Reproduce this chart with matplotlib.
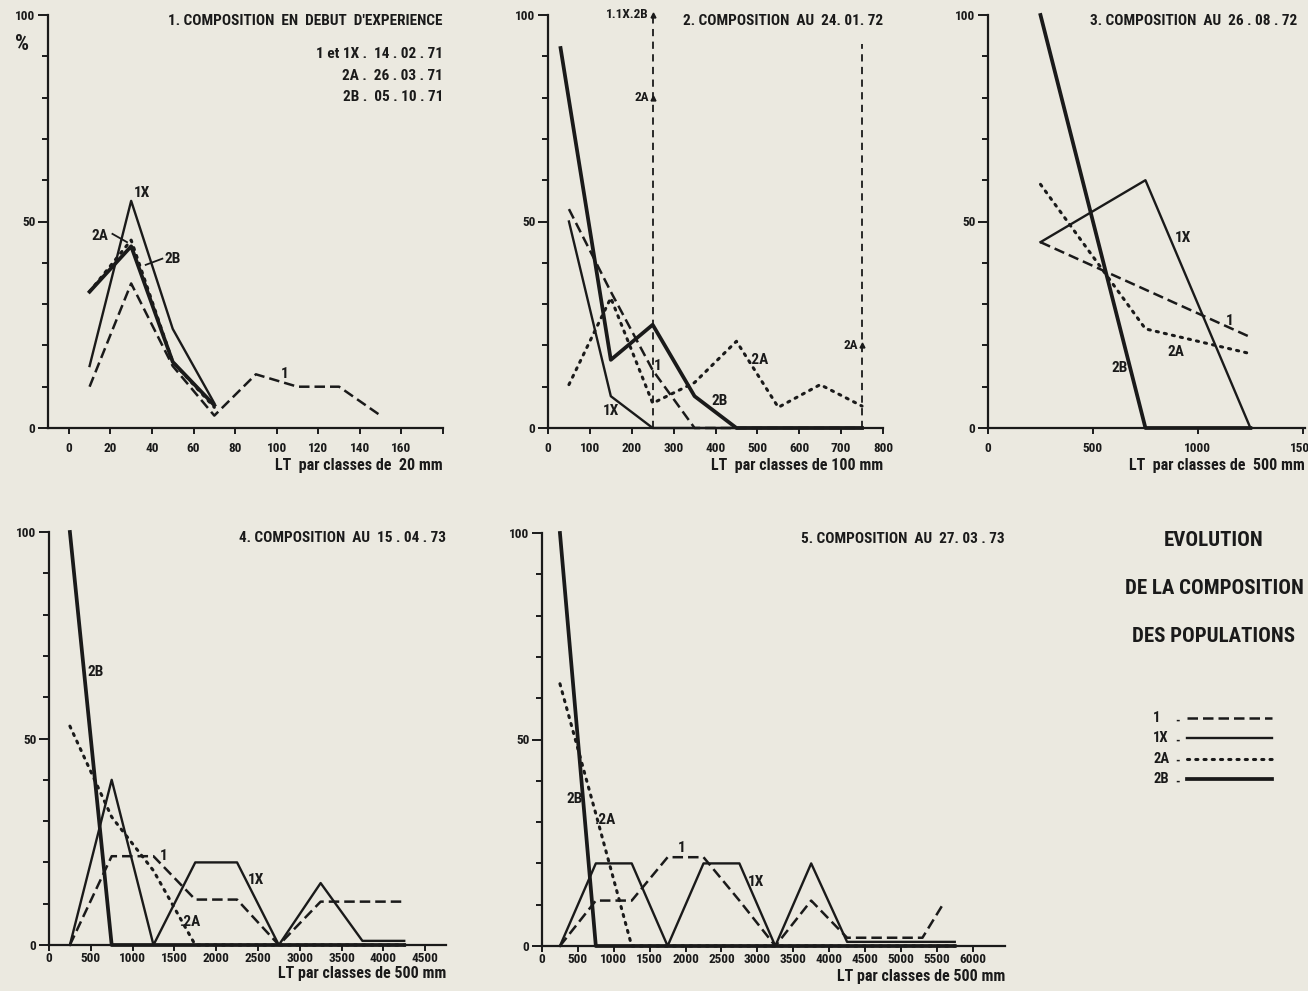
import matplotlib
matplotlib.use('Agg')
import matplotlib.pyplot as plt
from matplotlib import font_manager
from matplotlib.lines import Line2D
from matplotlib.ticker import MultipleLocator

# --- data (percent per length class) ---
p1_x = [10, 30, 50, 70, 90, 110, 130, 150]
p1_1 = [10, 35, 15, 3, 13, 10, 10, 3]
p1_1X = [15, 55, 24, 6]
p1_2A = [33, 45.5, 16, 5]
p1_2B = [33, 44, 16, 5.5]

p2_x = [50, 150, 250, 350, 450, 550, 650, 750]
p2_x2B = [30, 150, 250, 350, 450, 550, 650, 750]
p2_1 = [53, 33, 14, 0, 0, 0, 0, 0]
p2_1X = [50, 7.7, 0, 0, 0, 0, 0, 0]
p2_2A = [10.5, 31.5, 6, 11, 21, 5, 10.5, 5.3]
p2_2B = [92, 16.5, 25, 7.7, 0, 0, 0, 0]
p2_offscale_x = [250, 250, 750]
p2_offscale_y = [100, 80, 20]
p2_offscale_lbl = ['1.1X.2B', '2A', '2A']

p3_x = [250, 750, 1250]
p3_1 = [45, 33.5, 22]
p3_1X = [45, 60, 0]
p3_2A = [59, 24, 18]
p3_2B = [100, 0, 0]

p4_x = [250, 750, 1250, 1750, 2250, 2750, 3250, 3750, 4250]
p4_1 = [0, 21.5, 21.5, 11, 11, 0, 10.5, 10.5, 10.5]
p4_1X = [0, 40, 0, 20, 20, 0, 15, 1, 1]
p4_2A = [53, 31, 18, 0, 0, 0, 0, 0, 0]
p4_2B = [100, 0, 0, 0, 0, 0, 0, 0, 0]

p5_x = [250, 750, 1250, 1750, 2250, 2750, 3250, 3750, 4250, 4750, 5250, 5750]
p5_x1 = [250, 750, 1250, 1750, 2250, 2750, 3250, 3750, 4250, 4750, 5300, 5600]
p5_1 = [0, 11, 11, 21.5, 21.5, 11, 0, 11, 2, 2, 2, 10.5]
p5_1X = [0, 20, 20, 0, 20, 20, 0, 20, 1, 1, 1, 1]
p5_2A = [63.5, 32, 0, 0, 0, 0, 0, 0, 0, 0, 0, 0]
p5_2B = [100, 0, 0, 0, 0, 0, 0, 0, 0, 0, 0, 0]

titles = ["1. COMPOSITION  EN  DEBUT  D'EXPERIENCE",
          "2. COMPOSITION  AU  24. 01. 72",
          "3. COMPOSITION  AU  26 . 08 . 72",
          "4. COMPOSITION  AU  15 . 04 . 73",
          "5. COMPOSITION  AU  27. 03 . 73"]
dates = ["1 et 1X .  14 . 02 . 71", "2A .  26 . 03 . 71", "2B .  05 . 10 . 71"]
xlabels = ["LT  par classes de  20 mm", "LT  par classes de 100 mm",
           "LT  par classes de  500 mm", "LT par classes de 500 mm",
           "LT par classes de 500 mm"]
series = ['1', '1X', '2A', '2B']
block_title = ["EVOLUTION", "DE LA COMPOSITION", "DES POPULATIONS"]

W, H = 1308, 991

# look for a narrow / condensed bold face among the installed fonts
FONT, STRETCH = 'DejaVu Sans', 'normal'
cands = []
for f in font_manager.fontManager.ttflist:
    fn = f.fname.lower()
    if ('condensed' in fn or 'narrow' in fn) and 'semi' not in fn and 'extra' not in fn:
        cands.append(f)
for pref in ['Liberation Sans Narrow', 'Roboto Condensed', 'Open Sans Condensed',
             'Noto Sans', 'DejaVu Sans']:
    hit = [f for f in cands if f.name == pref]
    if hit:
        FONT = pref
        STRETCH = hit[0].stretch
        break
plt.rcParams['font.family'] = [FONT, 'DejaVu Sans']
plt.rcParams['font.weight'] = 'bold'
plt.rcParams['font.stretch'] = STRETCH
NARROW = FONT != 'DejaVu Sans' or STRETCH != 'normal'
K = 1.0 if NARROW else 0.8  # shrink text when no condensed face is available

INK = '#1a1a1a'
PAPER = '#ebe9e0'
STYLE = {
    '1': dict(ls=(0, (4.2, 2.0)), lw=1.8),
    '1X': dict(ls='-', lw=1.7),
    '2A': dict(ls=(0, (0.7, 2.0)), lw=2.2, dash_capstyle='round'),
    '2B': dict(ls='-', lw=2.7),
}


def box(left, right, top, bottom):
    return [left / W, 1 - bottom / H, (right - left) / W, (bottom - top) / H]


def make_axes(fig, rect, xlim, xticks, xlabel, pad, lab_y):
    ax = fig.add_axes(rect)
    ax.set_facecolor('none')
    ax.set_xlim(*xlim)
    ax.set_ylim(0, 100)
    for s in ['top', 'right']:
        ax.spines[s].set_visible(False)
    for s in ['left', 'bottom']:
        ax.spines[s].set_linewidth(1.6)
        ax.spines[s].set_color(INK)
    ax.set_yticks([0, 50, 100])
    ax.yaxis.set_minor_locator(MultipleLocator(10))
    ax.set_xticks(xticks)
    ax.set_xticklabels([str(t) for t in xticks])
    ax.tick_params(axis='y', which='major', length=7, width=1.4, colors=INK,
                   labelsize=9.5 * K, pad=2)
    ax.tick_params(axis='y', which='minor', length=4, width=1.4, colors=INK)
    ax.tick_params(axis='x', length=4, width=1.4, colors=INK, labelsize=9.5 * K,
                   pad=pad)
    ax.text(1.0, lab_y, xlabel, transform=ax.transAxes, ha='right', va='center',
            fontsize=11.5 * K, color=INK)
    return ax


def draw(ax, xs, ys, key):
    ax.plot(xs, ys, color=INK, clip_on=False, **STYLE[key])


def lbl(ax, x, y, s, size=11):
    ax.text(x, y, s, ha='center', va='center', fontsize=size * K, color=INK)


def title(ax, s, xr=1.0):
    ax.text(xr, 0.985, s, transform=ax.transAxes, ha='right', va='center',
            fontsize=11 * K, color=INK)


fig = plt.figure(figsize=(W / 100, H / 100), dpi=100)
fig.patch.set_facecolor(PAPER)

# panel 1
ax1 = make_axes(fig, box(48, 443, 15, 428), (-10, 180), list(range(0, 181, 20)),
                xlabels[0], 6, -0.091)
ax1.set_xticklabels([str(t) for t in range(0, 161, 20)] + [''])
draw(ax1, p1_x, p1_1, '1')
draw(ax1, p1_x[:4], p1_1X, '1X')
draw(ax1, p1_x[:4], p1_2A, '2A')
draw(ax1, p1_x[:4], p1_2B, '2B')
lbl(ax1, 35, 57, '1X')
lbl(ax1, 15, 46.5, '2A')
ax1.plot([21, 28], [47, 45], color=INK, lw=1.3)
lbl(ax1, 50, 41, '2B')
ax1.plot([37, 45], [39.5, 41], color=INK, lw=1.3)
lbl(ax1, 104, 13, '1')
title(ax1, titles[0])
for i, d in enumerate(dates):
    ax1.text(1.0, 0.905 - i * 0.052, d, transform=ax1.transAxes, ha='right',
             va='center', fontsize=11 * K, color=INK)
ax1.text(-0.065, 0.93, '%', transform=ax1.transAxes, ha='center', va='center',
         fontsize=16 * K, color=INK)

# panel 2
ax2 = make_axes(fig, box(548, 883, 15, 428), (0, 800), list(range(0, 801, 100)),
                xlabels[1], 6, -0.091)
draw(ax2, p2_x, p2_1, '1')
draw(ax2, p2_x, p2_1X, '1X')
draw(ax2, p2_x, p2_2A, '2A')
draw(ax2, p2_x2B, p2_2B, '2B')
ax2.plot([p2_offscale_x[0]] * 2, [0, p2_offscale_y[0]], color=INK, lw=1.3,
         ls=(0, (4, 3)), clip_on=False)
ax2.plot([p2_offscale_x[2]] * 2, [0, 93], color=INK, lw=1.3, ls=(0, (4, 3)),
         clip_on=False)
ax2.plot(p2_offscale_x, p2_offscale_y, ls='none', marker='^', ms=3.5, color=INK,
         clip_on=False)
for x, y, s in zip(p2_offscale_x, p2_offscale_y, p2_offscale_lbl):
    ax2.text(x - 9, y, s, ha='right', va='center', fontsize=9.5 * K, color=INK)
lbl(ax2, 151, 4, '1X')
lbl(ax2, 411, 6.5, '2B')
lbl(ax2, 262, 15, '1')
lbl(ax2, 500, 16.5, '.2A')
title(ax2, titles[1])

# panel 3 (the last tick label runs off the page, as in the source)
ax3 = make_axes(fig, box(988, 1305, 15, 428), (0, 1510), [0, 500, 1000, 1500],
                xlabels[2], 6, -0.091)
draw(ax3, p3_x, p3_1, '1')
draw(ax3, p3_x, p3_1X, '1X')
draw(ax3, p3_x, p3_2A, '2A')
draw(ax3, p3_x, p3_2B, '2B')
lbl(ax3, 929, 46, '1X')
lbl(ax3, 1150, 26, '1')
lbl(ax3, 897, 18.5, '2A')
lbl(ax3, 627, 14.5, '2B')
title(ax3, titles[2], 0.975)

# panel 4
ax4 = make_axes(fig, box(49, 446, 532, 945), (0, 4750), list(range(0, 4501, 500)),
                xlabels[3], 1, -0.068)
draw(ax4, p4_x, p4_1, '1')
draw(ax4, p4_x, p4_1X, '1X')
draw(ax4, p4_x, p4_2A, '2A')
draw(ax4, p4_x, p4_2B, '2B')
lbl(ax4, 558, 66, '2B')
lbl(ax4, 1375, 21.5, '1')
lbl(ax4, 2470, 15.7, '1X')
lbl(ax4, 1690, 5.6, '.2A')
title(ax4, titles[3])

# panel 5
ax5 = make_axes(fig, box(542, 1005, 533, 946), (0, 6450), list(range(0, 6001, 500)),
                xlabels[4], 1, -0.073)
draw(ax5, p5_x1, p5_1, '1')
draw(ax5, p5_x, p5_1X, '1X')
draw(ax5, p5_x, p5_2A, '2A')
draw(ax5, p5_x, p5_2B, '2B')
lbl(ax5, 450, 35.7, '2B')
lbl(ax5, 880, 30.5, '.2A')
lbl(ax5, 1950, 23.8, '1')
lbl(ax5, 2980, 15.6, '1X')
title(ax5, titles[4])

# title block and key
for i, s in enumerate(block_title):
    fig.text(1214 / W, 1 - (541 + i * 48) / H, s, ha='center', va='center',
             fontsize=15 * K, color=INK)
for i, key in enumerate(series):
    yy = 1 - (718 + i * 20.3) / H
    fig.text(1153 / W, yy, key, ha='left', va='center', fontsize=10.5 * K, color=INK)
    fig.text(1178 / W, yy - 0.003, '-', ha='center', va='center', fontsize=9,
             color=INK)
    fig.add_artist(Line2D([1187 / W, 1272 / W], [yy, yy], color=INK,
                          **STYLE[key]))

fig.savefig('out.png', dpi=100, facecolor=PAPER)
